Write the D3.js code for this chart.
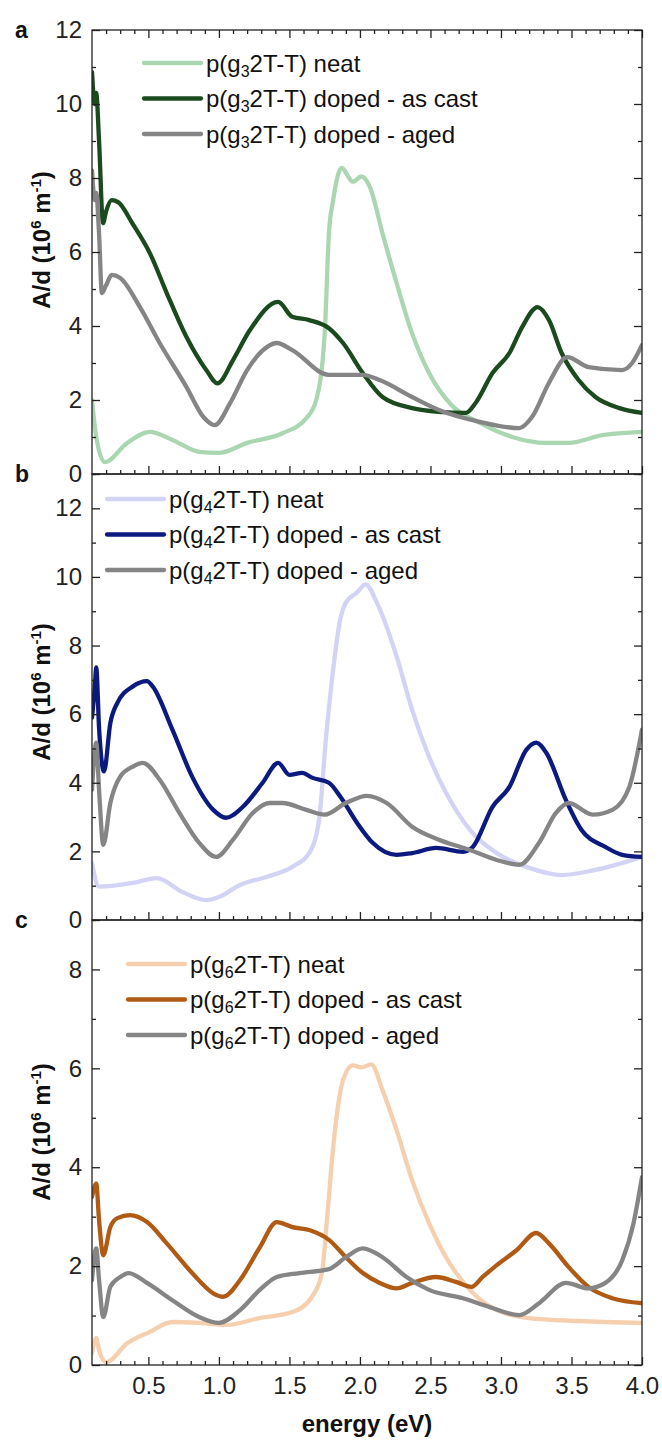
<!DOCTYPE html>
<html>
<head>
<meta charset="utf-8">
<script src="https://cdn.jsdelivr.net/npm/d3@7"></script>
<style>
  body { margin: 0; background: #fff; }
  svg { display: block; font-family: "Liberation Sans", Arial, sans-serif; }
</style>
</head>
<body>
<script>
"use strict";

// energy axis
const energyDomain = [0.1, 4.0];
const energyMajor = [0.5, 1.0, 1.5, 2.0, 2.5, 3.0, 3.5, 4.0];
const energyMinor = [0.2, 0.3, 0.4, 0.6, 0.7, 0.8, 0.9, 1.1, 1.2, 1.3, 1.4, 1.6, 1.7, 1.8, 1.9,
  2.1, 2.2, 2.3, 2.4, 2.6, 2.7, 2.8, 2.9, 3.1, 3.2, 3.3, 3.4, 3.6, 3.7, 3.8, 3.9];

// panel a : p(g3 2T-T)
const g3Neat = [[0.10,2.0],[0.13,1.0],[0.19,0.32],[0.35,0.84],[0.51,1.14],[0.67,0.92],[0.86,0.6],[1.0,0.57],
  [1.2,0.84],[1.45,1.1],[1.62,1.51],[1.69,2.0],[1.75,3.8],[1.78,6.5],[1.81,7.4],[1.87,8.27],[1.95,7.9],
  [2.01,8.04],[2.07,7.76],[2.16,6.5],[2.26,5.16],[2.37,3.8],[2.49,2.73],[2.65,1.86],[2.85,1.38],[3.08,1.0],
  [3.32,0.84],[3.48,0.84],[3.72,1.05],[4.0,1.14]];
const g3Cast = [[0.10,10.86],[0.12,10.0],[0.13,10.3],[0.15,9.0],[0.178,6.78],[0.2,7.1],[0.24,7.4],[0.285,7.35],
  [0.39,6.75],[0.51,5.97],[0.63,4.89],[0.77,3.7],[0.91,2.81],[0.99,2.45],[1.1,3.08],[1.22,3.89],[1.42,4.65],
  [1.52,4.25],[1.64,4.16],[1.78,3.94],[1.88,3.54],[2.02,2.73],[2.16,2.08],[2.37,1.78],[2.56,1.68],[2.75,1.65],
  [2.82,1.92],[2.94,2.73],[3.06,3.27],[3.15,3.97],[3.26,4.51],[3.34,4.16],[3.43,3.27],[3.55,2.54],[3.67,2.08],
  [3.84,1.78],[4.0,1.65]];
const g3Aged = [[0.10,8.2],[0.12,7.4],[0.13,7.6],[0.15,6.5],[0.17,4.89],[0.2,5.1],[0.24,5.38],[0.3,5.3],
  [0.44,4.51],[0.58,3.54],[0.77,2.35],[0.89,1.54],[0.97,1.32],[1.08,1.92],[1.2,2.81],[1.34,3.43],[1.41,3.54],
  [1.52,3.35],[1.78,2.68],[2.02,2.68],[2.14,2.54],[2.37,2.08],[2.56,1.73],[2.85,1.41],[3.13,1.24],[3.22,1.54],
  [3.34,2.46],[3.47,3.16],[3.62,2.89],[3.86,2.81],[3.93,3.0],[4.0,3.49]];

// panel b : p(g4 2T-T)
const g4Neat = [[0.10,1.66],[0.15,0.97],[0.39,1.08],[0.56,1.22],[0.74,0.82],[0.91,0.58],[1.0,0.67],[1.15,1.02],
  [1.34,1.26],[1.52,1.55],[1.64,1.95],[1.71,2.92],[1.76,5.34],[1.81,7.3],[1.86,8.76],[1.9,9.25],[1.98,9.55],
  [2.04,9.78],[2.12,9.25],[2.26,7.68],[2.37,6.13],[2.49,4.76],[2.61,3.71],[2.78,2.63],[2.97,1.95],[3.2,1.52],
  [3.43,1.31],[3.67,1.46],[4.0,1.84]];
const g4Cast = [[0.10,5.9],[0.12,6.8],[0.13,7.36],[0.15,5.6],[0.185,4.33],[0.23,5.74],[0.28,6.33],[0.39,6.81],
  [0.49,6.96],[0.53,6.81],[0.67,5.55],[0.81,4.18],[0.96,3.21],[1.05,2.98],[1.17,3.3],[1.31,4.0],[1.42,4.58],
  [1.5,4.23],[1.59,4.29],[1.66,4.15],[1.78,4.0],[1.86,3.6],[1.98,2.83],[2.09,2.25],[2.26,1.9],[2.37,1.95],
  [2.54,2.1],[2.73,1.99],[2.8,2.13],[2.94,3.3],[3.06,3.88],[3.18,4.96],[3.25,5.17],[3.32,4.88],[3.46,3.5],
  [3.57,2.63],[3.74,2.13],[3.86,1.9],[4.0,1.84]];
const g4Aged = [[0.10,3.8],[0.13,5.17],[0.15,3.8],[0.18,2.19],[0.23,3.41],[0.3,4.18],[0.39,4.47],[0.46,4.58],
  [0.58,4.09],[0.72,3.12],[0.86,2.25],[0.98,1.84],[1.1,2.34],[1.24,3.12],[1.36,3.41],[1.45,3.41],[1.62,3.21],
  [1.75,3.07],[1.9,3.41],[2.05,3.62],[2.19,3.41],[2.37,2.72],[2.56,2.34],[2.78,2.04],[2.97,1.75],[3.13,1.61],
  [3.27,2.25],[3.39,3.12],[3.48,3.41],[3.65,3.07],[3.79,3.21],[3.91,3.88],[4.0,5.55]];

// panel c : p(g6 2T-T)
const g6Neat = [[0.10,0.24],[0.13,0.55],[0.15,0.3],[0.2,0.06],[0.35,0.44],[0.51,0.67],[0.67,0.87],[0.86,0.85],
  [1.05,0.81],[1.29,0.95],[1.52,1.07],[1.66,1.38],[1.73,1.86],[1.77,3.07],[1.81,4.4],[1.88,5.76],[1.95,6.06],
  [2.01,6.02],[2.08,6.08],[2.16,5.56],[2.26,4.75],[2.37,3.74],[2.49,2.87],[2.61,2.18],[2.78,1.52],[2.97,1.11],
  [3.2,0.95],[3.55,0.89],[4.0,0.85]];
const g6Cast = [[0.10,3.4],[0.13,3.67],[0.15,2.93],[0.18,2.22],[0.23,2.79],[0.28,2.97],[0.37,3.03],[0.49,2.89],
  [0.63,2.46],[0.81,1.86],[0.96,1.45],[1.03,1.38],[1.15,1.72],[1.29,2.38],[1.41,2.89],[1.52,2.79],[1.64,2.73],
  [1.78,2.53],[1.9,2.18],[2.02,1.86],[2.14,1.66],[2.26,1.55],[2.37,1.66],[2.54,1.78],[2.68,1.68],[2.79,1.58],
  [2.87,1.78],[2.97,2.02],[3.11,2.32],[3.25,2.67],[3.34,2.46],[3.48,1.98],[3.62,1.58],[3.79,1.35],[4.0,1.25]];
const g6Aged = [[0.10,1.72],[0.13,2.36],[0.15,1.72],[0.18,0.97],[0.23,1.58],[0.3,1.78],[0.36,1.86],[0.49,1.66],
  [0.67,1.31],[0.86,0.97],[1.0,0.85],[1.15,1.11],[1.29,1.52],[1.41,1.78],[1.57,1.86],[1.78,1.94],[1.9,2.18],
  [2.02,2.36],[2.16,2.18],[2.33,1.78],[2.49,1.52],[2.73,1.35],[2.92,1.17],[3.13,1.01],[3.27,1.25],[3.46,1.66],
  [3.62,1.55],[3.74,1.66],[3.86,2.12],[3.94,2.87],[4.0,3.8]];

const seriesKinds = ["neat", "doped - as cast", "doped - aged"];

const panels = [
  { letter: "a", sub: "3", yMax: 12, yMajor: [0, 2, 4, 6, 8, 10, 12], top: 30, bottom: 474,
    series: [g3Neat, g3Cast, g3Aged], colors: ["#aad7b2", "#1c4a1f", "#858585"],
    legend: { x: 144, y: 63 }, labelY: 240, topTicks: true },
  { letter: "b", sub: "4", yMax: 13, yMajor: [0, 2, 4, 6, 8, 10, 12], top: 474, bottom: 920,
    series: [g4Neat, g4Cast, g4Aged], colors: ["#d3d3f5", "#0c1a80", "#858585"],
    legend: { x: 107, y: 499 }, labelY: 692, topTicks: false },
  { letter: "c", sub: "6", yMax: 9, yMajor: [0, 2, 4, 6, 8], top: 920, bottom: 1365,
    series: [g6Neat, g6Cast, g6Aged], colors: ["#f6cfae", "#b05a14", "#858585"],
    legend: { x: 128, y: 964 }, labelY: 1132, topTicks: false }
];

const width = 662, height = 1441;
const left = 92, right = 642;
const fontSize = 24;

const svg = d3.select("body").append("svg")
    .attr("width", width)
    .attr("height", height);

const x = d3.scaleLinear().domain(energyDomain).range([left, right]);

panels.forEach((p, i) => {
  const y = d3.scaleLinear().domain([0, p.yMax]).range([p.bottom, p.top]);
  const yMinor = d3.range(1, p.yMax + 1, 2);
  const g = svg.append("g");

  const clipId = "clip-" + p.letter;
  svg.append("clipPath").attr("id", clipId)
    .append("rect").attr("x", left).attr("y", p.top).attr("width", right - left).attr("height", p.bottom - p.top);

  const line = d3.line()
      .x(d => x(d[0]))
      .y(d => y(d[1]))
      .curve(d3.curveMonotoneX);

  g.append("g").attr("clip-path", `url(#${clipId})`)
    .selectAll("path")
    .data(p.series)
    .enter().append("path")
      .attr("d", line)
      .attr("fill", "none")
      .attr("stroke", (d, k) => p.colors[k])
      .attr("stroke-width", 4.3)
      .attr("stroke-linejoin", "round")
      .attr("stroke-linecap", "round");

  // axes, ticks pointing inward
  const styleAxis = sel => {
    sel.select(".domain").remove();
    sel.selectAll("line").attr("stroke", "#222").attr("stroke-width", 1.3);
    sel.selectAll("text").attr("font-size", fontSize).attr("fill", "#222")
      .attr("font-family", "'Liberation Sans', Arial, sans-serif");
  };

  g.append("g").attr("transform", `translate(${left},0)`)
    .call(d3.axisLeft(y).tickValues(p.yMajor).tickFormat(d3.format("d")).tickSize(-8).tickPadding(10))
    .call(styleAxis);
  g.append("g").attr("transform", `translate(${left},0)`)
    .call(d3.axisLeft(y).tickValues(yMinor).tickFormat("").tickSize(-4))
    .call(styleAxis);
  g.append("g").attr("transform", `translate(${right},0)`)
    .call(d3.axisRight(y).tickValues(p.yMajor).tickFormat("").tickSize(-8))
    .call(styleAxis);
  g.append("g").attr("transform", `translate(${right},0)`)
    .call(d3.axisRight(y).tickValues(yMinor).tickFormat("").tickSize(-4))
    .call(styleAxis);

  const last = i === panels.length - 1;
  g.append("g").attr("transform", `translate(0,${p.bottom})`)
    .call(d3.axisBottom(x).tickValues(energyMajor).tickFormat(last ? d3.format(".1f") : "").tickSize(-8).tickPadding(12))
    .call(styleAxis);
  g.append("g").attr("transform", `translate(0,${p.bottom})`)
    .call(d3.axisBottom(x).tickValues(energyMinor).tickFormat("").tickSize(-4))
    .call(styleAxis);
  if (p.topTicks) {
    g.append("g").attr("transform", `translate(0,${p.top})`)
      .call(d3.axisTop(x).tickValues(energyMajor).tickFormat("").tickSize(-8))
      .call(styleAxis);
    g.append("g").attr("transform", `translate(0,${p.top})`)
      .call(d3.axisTop(x).tickValues(energyMinor).tickFormat("").tickSize(-4))
      .call(styleAxis);
  }

  // frame
  g.append("rect")
    .attr("x", left).attr("y", p.top)
    .attr("width", right - left).attr("height", p.bottom - p.top)
    .attr("fill", "none").attr("stroke", "#222").attr("stroke-width", 1.3);

  // panel letter
  g.append("text")
    .attr("x", 15).attr("y", p.top + 8)
    .attr("font-size", 23).attr("font-weight", "bold").attr("fill", "#111")
    .text(p.letter);

  // y label
  const yl = g.append("text")
    .attr("transform", `translate(50,${p.labelY}) rotate(-90)`)
    .attr("text-anchor", "middle")
    .attr("font-size", fontSize).attr("font-weight", "bold").attr("fill", "#111");
  yl.append("tspan").text("A/d (10");
  yl.append("tspan").attr("font-size", 15).attr("dy", -9).text("6");
  yl.append("tspan").attr("dy", 9).text(" m");
  yl.append("tspan").attr("font-size", 15).attr("dy", -9).text("-1");
  yl.append("tspan").attr("dy", 9).text(")");

  // legend
  const lg = g.append("g").selectAll("g")
    .data(seriesKinds)
    .enter().append("g")
      .attr("transform", (d, k) => `translate(${p.legend.x},${p.legend.y + k * 35.5})`);
  lg.append("line")
    .attr("x1", 0).attr("x2", 57)
    .attr("stroke", (d, k) => p.colors[k])
    .attr("stroke-width", 4.3).attr("stroke-linecap", "round");
  const lt = lg.append("text")
    .attr("x", 62).attr("y", 8.5)
    .attr("font-size", fontSize).attr("fill", "#111");
  lt.append("tspan").text("p(g");
  lt.append("tspan").attr("font-size", 16).attr("dy", 5).text(p.sub);
  lt.append("tspan").attr("dy", -5).text(d => "2T-T) " + d);
});

svg.append("text")
  .attr("x", (left + right) / 2).attr("y", 1432)
  .attr("text-anchor", "middle")
  .attr("font-size", fontSize).attr("font-weight", "bold").attr("fill", "#111")
  .text("energy (eV)");
</script>
</body>
</html>
